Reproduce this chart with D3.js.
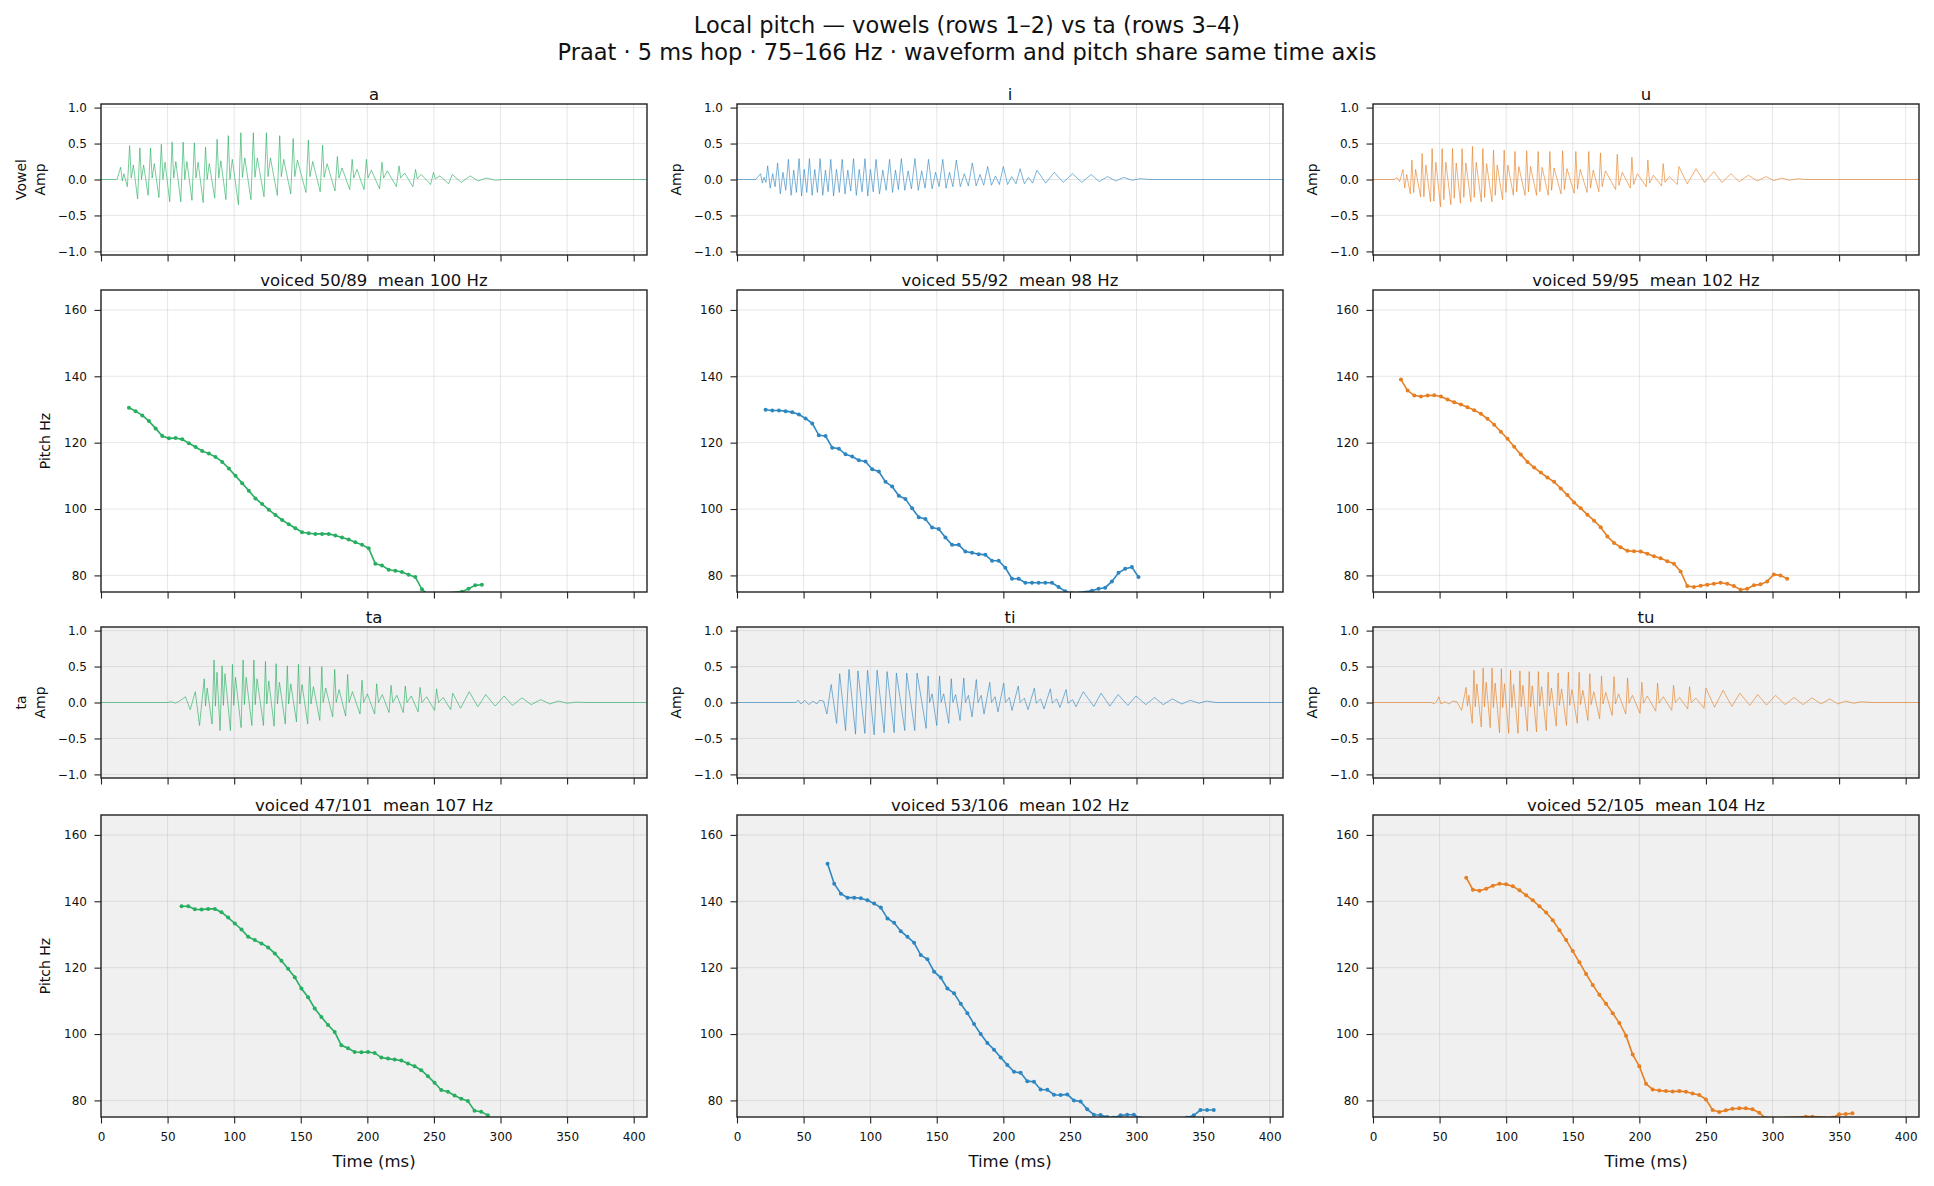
<!DOCTYPE html>
<html>
<head>
<meta charset="utf-8">
<script src="https://cdn.jsdelivr.net/npm/d3@7"></script>
<style>
  body { margin: 0; background: #fff; }
  text { font-family: 'DejaVu Sans', sans-serif; fill: #111; }
</style>
</head>
<body>
<div id="chart"></div>
<script>
/* global d3 */

// ---- data ----
const sounds = ['a', 'i', 'u', 'ta', 'ti', 'tu']
const colors = ['#27ae60', '#2e86c1', '#e67e22']
const voicedCounts = [50, 55, 59, 47, 53, 52]
const frameCounts = [89, 92, 95, 101, 106, 105]
const meanHz = [100, 98, 102, 107, 102, 104]
const rowLabels = ['Vowel', 'ta']

const timeTicks = [0, 50, 100, 150, 200, 250, 300, 350, 400]
const ampTicks = [-1, -0.5, 0, 0.5, 1]
const hzTicks = [80, 100, 120, 140, 160]

// pitch tracks, 5 ms hop, first frame time (ms); null = unvoiced
const hop = 5
const pitchStart = [21, 21.5, 21, 60.5, 68, 70]
const pitchA = [130.5,129.5,128.2,126.5,124.3,122,121.3,121.4,121,119.8,118.7,117.5,116.7,115.7,114.2,112.2,110,107.8,105.5,103.2,101.5,99.8,98.2,96.7,95.4,94.2,93,92.7,92.5,92.5,92.5,92,91.4,90.8,90,89.2,88.2,83.5,83,81.7,81.4,81,80.2,79.5,75.8,74.2,null,null,null,null,75.1,76,77,77.2]
const pitchI = [129.9,129.7,129.7,129.5,129.2,128.5,127.3,125.8,122.2,122,118.5,118.2,116.5,115.8,114.7,114.3,112,111.3,108.2,106.8,104,103,100.2,97.5,97,94.4,94,91.4,89.2,89.2,87.2,86.8,86.4,86.2,84.4,84.4,82.3,79,79,77.8,77.8,77.8,77.8,77.8,76.5,75.2,74.6,null,null,75.4,76,76.3,78.2,80.8,82,82.5,79.5]
const pitchU = [139,135.7,134.2,133.9,134.2,134.3,133.9,133,132.2,131.5,130.7,129.8,128.7,127.2,125.4,123.3,121.2,118.8,116.4,114.2,112.5,111,109.5,108.2,106.2,104.2,102,100.2,98.3,96.5,94.5,91.7,89.8,88.5,87.4,87.3,87.2,86.5,85.8,85.2,84.3,83.5,81.2,76.8,76.5,76.9,77.2,77.5,77.8,77.5,76.8,75.7,76,77,77.3,78.2,80.3,80,79]
const pitchTa = [138.5,138.5,137.6,137.5,137.7,137.7,136.7,135.1,133.3,131.5,129.3,128.3,127.3,126.1,124.3,122.1,119.7,117.1,113.7,111.1,107.7,105.1,102.7,100.6,96.6,95.7,94.6,94.5,94.6,94.3,92.9,92.6,92.3,92,91.1,90.3,89.1,87.3,85.3,83.1,82.6,81.5,80.5,79.8,76.9,76.6,75.5]
const pitchTi = [151.3,145.3,142.3,141.1,141.1,140.9,140.3,139.3,138.1,134.8,133.5,131,129.3,127.5,123.8,122.5,118.8,117,113.7,112.3,109.1,106.3,103,100,97.3,95.3,92.9,90.7,88.6,88.3,85.8,85.6,83.3,83.2,81.7,81.6,81.8,80,79.7,77.3,75.7,75.6,75,74.8,75.5,75.7,75.7,74.6,null,null,null,null,null,null,74.8,75.5,77.1,77.1,77.1]
const pitchTu = [147.1,143.5,143.2,143.8,144.7,145.3,145.1,144.5,143.3,141.8,140.3,138.5,136.6,134.3,131.3,128.3,125,121.6,118.1,114.8,111.8,109.1,106.3,103.3,99.5,93.8,90.3,85,83.3,83,82.8,82.7,82.8,82.6,82.1,81.6,80.3,77.1,76.5,77,77.5,77.6,77.6,77.3,76.3,74.6,null,null,null,null,null,75.1,75.1,null,null,74.8,75.8,75.9,76.1]

// waveforms as [time ms, amplitude] turning points
const waveA = [[0,0],[12,0],[14.8,0.17],[16,-0.02],[17.2,0.08],[19.8,-0.10],[21.5,0.47],[22.7,0.02],[24.3,0.2],[27.5,-0.27],[29.2,0.44],[30.4,0],[32,0.2],[35.4,-0.22],[37.2,0.44],[38.4,0.02],[40,0.22],[43.5,-0.25],[45.3,0.49],[46.5,0],[48.1,0.24],[51.6,-0.31],[53.4,0.52],[54.6,0.02],[56.2,0.25],[59.9,-0.31],[61.7,0.52],[62.9,0],[64.5,0.25],[68.3,-0.29],[70.1,0.51],[71.3,0.02],[72.9,0.24],[76.7,-0.32],[78.5,0.45],[79.7,0],[81.3,0.22],[85.4,-0.26],[87.2,0.56],[88.4,0.02],[90,0.26],[93.8,-0.28],[95.6,0.61],[96.8,0],[98.6,0.28],[103.2,-0.35],[105,0.65],[106.2,0.03],[108,0.3],[112.6,-0.28],[114.4,0.65],[115.6,0.03],[117.4,0.3],[122.4,-0.24],[124.2,0.65],[125.4,0.04],[127.2,0.3],[132.4,-0.22],[134.2,0.61],[135.4,0.04],[137.2,0.28],[142.5,-0.2],[144.3,0.57],[145.5,0.04],[147.5,0.27],[153.9,-0.18],[155.7,0.55],[156.9,0.04],[159,0.25],[164.6,-0.17],[166.4,0.48],[167.6,0.03],[169.8,0.22],[175.7,-0.16],[177.5,0.32],[178.7,0.02],[181,0.16],[186.8,-0.14],[188.6,0.28],[189.8,0.02],[192.2,0.14],[197.5,-0.14],[199.3,0.28],[200.5,0.02],[203,0.13],[209.2,-0.13],[211,0.24],[212.2,0.02],[215,0.12],[221.8,-0.1],[223.8,0.19],[225,0.02],[228,0.09],[234.2,-0.1],[236.2,0.14],[237.5,0.01],[240.5,0.07],[247.5,-0.07],[249.7,0.1],[251,0.01],[254.5,0.05],[261,-0.06],[263.8,0.07],[270.5,-0.04],[277.2,0.05],[283.3,-0.02],[289.3,0.02],[296,-0.01],[302,0],[410,0]]
const waveI = [[0,0],[14,0],[17.7,0.08],[19,-0.05],[20.3,0.03],[21.7,-0.04],[23,0.19],[24.9,-0.12],[26.8,0.08],[28.6,-0.1],[30.5,0.23],[32.5,-0.2],[34.5,0.1],[36.6,-0.15],[38.6,0.28],[40.6,-0.22],[42.6,0.13],[44.6,-0.18],[46.6,0.29],[48.5,-0.23],[50.5,0.14],[52.4,-0.18],[54.4,0.29],[56.4,-0.22],[58.4,0.14],[60.4,-0.18],[62.4,0.29],[64.4,-0.22],[66.4,0.13],[68.4,-0.17],[70.4,0.28],[72.5,-0.23],[74.7,0.14],[76.8,-0.18],[79,0.28],[81.1,-0.2],[83.2,0.13],[85.4,-0.16],[87.5,0.29],[89.6,-0.22],[91.8,0.14],[93.9,-0.17],[96.1,0.29],[98.2,-0.23],[100.2,0.14],[102.3,-0.17],[104.4,0.28],[107,-0.2],[109.5,0.13],[112,-0.15],[114.6,0.28],[116.8,-0.18],[119,0.13],[121.2,-0.14],[123.4,0.29],[126,-0.15],[128.5,0.12],[131,-0.13],[133.6,0.29],[136.1,-0.15],[138.7,0.12],[141.2,-0.12],[143.8,0.28],[146.5,-0.13],[149.1,0.1],[151.8,-0.1],[154.5,0.28],[157,-0.12],[159.6,0.1],[162.1,-0.1],[164.7,0.27],[167.7,-0.1],[170.7,0.08],[173.7,-0.09],[176.7,0.23],[179.6,-0.09],[182.5,0.07],[185.3,-0.08],[188.2,0.18],[191.1,-0.08],[194.1,0.05],[197,-0.07],[200,0.18],[203.2,-0.07],[206.3,0.04],[209.5,-0.06],[212.6,0.15],[215.8,-0.06],[218.9,0.03],[222,-0.05],[225.2,0.13],[231.8,-0.05],[238.3,0.1],[245,-0.04],[251.9,0.08],[259,-0.04],[265.9,0.07],[272,-0.03],[278.2,0.04],[284.4,-0.02],[290.5,0.03],[296.6,-0.01],[302.8,0.01],[310,0],[410,0]]
const waveU = [[0,0],[16,0],[18,0.03],[20,-0.03],[22.5,0.14],[23.8,-0.12],[25.3,0.07],[28,-0.2],[29.2,0.27],[30.5,-0.18],[32,0.14],[35.7,-0.24],[36.9,0.36],[38.2,-0.24],[39.7,0.2],[43.2,-0.31],[44.4,0.43],[45.7,-0.3],[47.2,0.24],[50.7,-0.38],[51.9,0.43],[53.2,-0.28],[54.7,0.24],[58.5,-0.35],[59.7,0.43],[61,-0.26],[62.5,0.23],[65.7,-0.33],[66.9,0.43],[68.2,-0.25],[69.7,0.23],[73.5,-0.31],[74.7,0.46],[76,-0.25],[77.5,0.24],[81.3,-0.31],[82.5,0.43],[83.8,-0.25],[85.3,0.22],[89.3,-0.31],[90.5,0.41],[91.8,-0.22],[93.3,0.2],[97.3,-0.28],[98.5,0.41],[99.8,-0.18],[101.3,0.2],[105.4,-0.22],[106.6,0.39],[107.9,-0.17],[109.5,0.18],[114.2,-0.22],[115.4,0.4],[116.7,-0.17],[118.3,0.18],[122.8,-0.22],[124,0.39],[125.3,-0.17],[127,0.17],[131.6,-0.22],[132.8,0.39],[134.1,-0.15],[136,0.16],[141.2,-0.2],[142.4,0.4],[143.7,-0.14],[145.7,0.15],[151.1,-0.19],[152.3,0.39],[153.6,-0.13],[155.6,0.14],[160.8,-0.18],[162,0.39],[163.3,-0.12],[165.4,0.13],[169.6,-0.17],[170.8,0.37],[172.1,-0.1],[174.5,0.12],[182.2,-0.14],[183.4,0.35],[184.7,-0.08],[187.2,0.1],[193.2,-0.12],[194.4,0.31],[195.7,-0.07],[198.5,0.08],[205.2,-0.1],[206.4,0.27],[207.7,-0.05],[210.5,0.06],[216.7,-0.09],[217.9,0.22],[219.3,-0.04],[222.5,0.04],[228.5,-0.07],[229.7,0.18],[236,-0.06],[242.6,0.15],[249,-0.04],[256,0.11],[262,-0.04],[268.8,0.08],[275,-0.03],[281.9,0.06],[288.5,-0.02],[295.3,0.04],[301,-0.015],[306.8,0.02],[313,-0.01],[318.9,0.01],[325,0],[410,0]]
const waveTa = [[0,0],[50,0],[53,0.01],[56,-0.01],[59,0.02],[63.4,0.08],[67,-0.1],[70.8,0.15],[74,-0.32],[77.5,0.33],[78.5,-0.05],[79.7,0.2],[83.4,-0.3],[84.9,0.59],[85.9,-0.05],[87.1,0.42],[89.4,-0.39],[90.9,0.51],[91.9,-0.04],[93.1,0.4],[97.2,-0.39],[98.7,0.53],[99.7,-0.04],[101,0.35],[105.2,-0.35],[106.7,0.59],[107.7,-0.03],[109,0.35],[113.3,-0.32],[114.8,0.59],[115.8,-0.03],[117.2,0.33],[122,-0.32],[123.5,0.57],[124.5,-0.02],[126,0.3],[130,-0.33],[131.5,0.54],[132.5,-0.02],[134,0.28],[138.4,-0.3],[139.9,0.51],[140.9,-0.02],[142.5,0.26],[146.8,-0.27],[148.3,0.53],[149.3,-0.02],[151,0.25],[155.2,-0.3],[156.7,0.5],[157.7,-0.02],[159.5,0.22],[164.3,-0.25],[165.8,0.5],[166.8,0],[168.8,0.2],[174,-0.2],[175.5,0.46],[176.6,0],[178.8,0.18],[183.7,-0.19],[185.2,0.39],[186.3,0],[188.8,0.15],[194.5,-0.16],[196,0.31],[197.2,0],[200,0.12],[205.5,-0.16],[207,0.26],[208.3,0],[211.2,0.11],[216.3,-0.14],[217.8,0.24],[219.1,0],[222.2,0.1],[227,-0.14],[228.5,0.23],[229.8,0],[233,0.09],[238.1,-0.13],[239.6,0.21],[241,0],[244.5,0.08],[250.5,-0.11],[252,0.19],[253.5,0],[257,0.07],[262.6,-0.1],[264.1,0.13],[270,-0.08],[276.5,0.15],[283,-0.06],[288.9,0.11],[296,-0.05],[302.7,0.09],[309,-0.04],[316.1,0.065],[323,-0.03],[330.2,0.04],[337,-0.02],[343.6,0.02],[350,-0.01],[357,0.005],[365,0],[410,0]]
const waveTi = [[0,0],[44,0],[46,0.03],[48,-0.02],[51,0.03],[54,-0.03],[57,0.02],[60,-0.02],[62,0.03],[65,0.02],[67.5,-0.16],[70.7,0.25],[74.8,-0.29],[77.1,0.4],[81.5,-0.39],[84.1,0.46],[89,-0.44],[90.8,0.44],[96,-0.43],[98,0.45],[103,-0.45],[105.2,0.45],[110.5,-0.42],[112.7,0.43],[118,-0.42],[119.7,0.41],[126,-0.39],[127.4,0.41],[133.5,-0.39],[135.2,0.41],[142,-0.36],[143.5,0.37],[144.7,0],[146.5,0.12],[150,-0.32],[152.1,0.37],[153.3,0],[155.2,0.12],[159,-0.29],[160.9,0.33],[162.1,0],[164.2,0.11],[167.5,-0.25],[170.3,0.34],[171.5,0],[173.8,0.1],[176.5,-0.2],[179.7,0.32],[181,0],[183.4,0.1],[185.5,-0.16],[189.8,0.28],[191.1,0],[193.8,0.08],[196,-0.13],[200.3,0.27],[201.6,0],[204.5,0.07],[206.5,-0.11],[211.2,0.23],[212.6,0],[215.8,0.06],[218.5,-0.1],[223.3,0.2],[224.7,-0.01],[228,0.05],[230.5,-0.09],[235.3,0.19],[236.8,-0.01],[240,0.05],[242.5,-0.07],[247.1,0.18],[248.6,-0.01],[252,0.04],[254.5,-0.06],[260,0.15],[268,-0.055],[273.4,0.13],[280,-0.05],[286.2,0.11],[293.5,-0.04],[299.6,0.09],[307,-0.03],[313.5,0.07],[320,-0.03],[326.9,0.05],[334,-0.02],[340.3,0.03],[347,-0.01],[352.3,0.02],[360,0],[410,0]]
const waveTu = [[0,0],[44,0],[46,-0.02],[48,0.02],[49.5,0.08],[51,-0.02],[54,0.01],[57,-0.02],[60,0.02],[63,0.01],[66.5,-0.11],[69.9,0.21],[70.9,-0.05],[72,0.1],[74.5,-0.29],[75.8,0.45],[76.8,-0.06],[78,0.26],[81.3,-0.34],[82.7,0.48],[83.7,-0.06],[85,0.28],[88,-0.35],[89.4,0.48],[90.4,-0.07],[91.7,0.27],[95,-0.42],[96.4,0.47],[97.4,-0.07],[98.7,0.26],[101.9,-0.43],[103.3,0.45],[104.3,-0.07],[105.6,0.25],[108.9,-0.43],[110.3,0.44],[111.3,-0.06],[112.6,0.24],[115.9,-0.4],[117.3,0.43],[118.3,-0.06],[119.6,0.23],[122.8,-0.41],[124.2,0.43],[125.2,-0.05],[126.6,0.22],[130.1,-0.39],[131.5,0.42],[132.5,-0.05],[134,0.2],[137.6,-0.33],[139,0.41],[140,-0.04],[141.6,0.19],[145.3,-0.32],[146.7,0.42],[147.7,-0.04],[149.4,0.18],[153.4,-0.29],[154.8,0.42],[155.8,-0.03],[157.6,0.17],[161.4,-0.25],[162.8,0.4],[163.8,-0.03],[165.8,0.15],[170.2,-0.23],[171.6,0.37],[172.7,-0.02],[174.8,0.14],[179.6,-0.18],[181,0.36],[182.1,-0.02],[184.4,0.12],[189.8,-0.16],[191.2,0.34],[192.3,-0.01],[194.8,0.1],[200.5,-0.15],[201.9,0.28],[203.1,-0.01],[206,0.09],[212.3,-0.12],[213.7,0.27],[214.9,-0.01],[218,0.08],[224.3,-0.11],[225.7,0.24],[227,0],[230.2,0.07],[236.3,-0.09],[237.7,0.22],[239,0],[242.5,0.06],[248.6,-0.08],[250,0.2],[256.5,-0.065],[262.9,0.17],[269.5,-0.055],[275.5,0.13],[283,-0.04],[288.9,0.11],[295.5,-0.035],[302.3,0.1],[309.5,-0.03],[316.2,0.07],[323,-0.03],[329.6,0.065],[336.5,-0.02],[343,0.05],[349,-0.02],[355,0.02],[361,-0.01],[367,0.01],[375,0],[410,0]]

const pitches = [pitchA, pitchI, pitchU, pitchTa, pitchTi, pitchTu]
const waves = [waveA, waveI, waveU, waveTa, waveTi, waveTu]

// ---- layout ----
const width = 1934, height = 1186
const colLeft = [101, 737, 1373], colW = 546
const rowTop = [104, 290, 627, 815]
const waveH = 151, pitchH = 302

const svg = d3.select('#chart').append('svg')
  .attr('width', width)
  .attr('height', height)

const x = d3.scaleLinear().domain([0, 410]).range([0, colW])
const yAmp = d3.scaleLinear().domain([-1.05, 1.05]).range([waveH, 0])
const yHz = d3.scaleLinear().domain([75, 166]).range([pitchH, 0])

// suptitle
svg.append('text').attr('x', width / 2).attr('y', 33)
  .attr('text-anchor', 'middle').style('font-size', '22.5px')
  .text('Local pitch — vowels (rows 1–2) vs ta (rows 3–4)')
svg.append('text').attr('x', width / 2).attr('y', 60)
  .attr('text-anchor', 'middle').style('font-size', '22.5px')
  .text('Praat · 5 ms hop · 75–166 Hz · waveform and pitch share same time axis')

let clipId = 0

let panel = (left, top, h, y, yTicks, yFmt, bg, xLabels) => {
  let g = svg.append('g').attr('transform', `translate(${left},${top})`)
  g.append('rect').attr('width', colW).attr('height', h).attr('fill', bg)

  g.selectAll('.gx').data(timeTicks).enter().append('line')
    .attr('x1', d => x(d)).attr('x2', d => x(d))
    .attr('y1', 0).attr('y2', h)
    .attr('stroke', '#b0b0b0').attr('stroke-opacity', 0.3).attr('stroke-width', 1)
  g.selectAll('.gy').data(yTicks).enter().append('line')
    .attr('x1', 0).attr('x2', colW)
    .attr('y1', d => y(d)).attr('y2', d => y(d))
    .attr('stroke', '#b0b0b0').attr('stroke-opacity', 0.3).attr('stroke-width', 1)

  let id = 'clip' + (clipId++)
  g.append('clipPath').attr('id', id)
    .append('rect').attr('width', colW).attr('height', h)
  let plot = g.append('g').attr('clip-path', `url(#${id})`)

  let ax = g.append('g').attr('transform', `translate(0,${h})`)
    .call(d3.axisBottom(x).tickValues(timeTicks).tickSize(6.5).tickPadding(9)
      .tickFormat(xLabels ? d3.format('d') : ''))
  let ay = g.append('g')
    .call(d3.axisLeft(y).tickValues(yTicks).tickSize(6.5).tickPadding(7.5).tickFormat(yFmt))
  ;[ax, ay].forEach(a => {
    a.select('.domain').remove()
    a.selectAll('line').attr('stroke', '#222').attr('stroke-width', 1.1)
    a.selectAll('text').style('font-size', '12px').attr('fill', '#111')
      .style('font-family', "'DejaVu Sans', sans-serif")
  })

  g.append('rect').attr('width', colW).attr('height', h)
    .attr('fill', 'none').attr('stroke', '#222').attr('stroke-width', 1.4)
  return { g, plot }
}

let yLabel = (g, h, dx, txt) => {
  g.append('text')
    .attr('transform', `translate(${dx},${h / 2}) rotate(-90)`)
    .attr('text-anchor', 'middle').attr('dominant-baseline', 'central')
    .style('font-size', '14px').text(txt)
}

for (let r = 0; r < 2; r++) {
  let bg = r === 0 ? '#ffffff' : '#f0f0f0'
  for (let c = 0; c < 3; c++) {
    let k = r * 3 + c
    let col = colors[c]

    // waveform
    let w = panel(colLeft[c], rowTop[r * 2], waveH, yAmp, ampTicks, d3.format('.1f'), bg, false)
    w.plot.append('path').datum(waves[k])
      .attr('d', d3.line().x(d => x(d[0])).y(d => yAmp(d[1])))
      .attr('fill', 'none').attr('stroke', col)
      .attr('stroke-width', 0.9).attr('stroke-opacity', 0.7)
    w.g.append('text').attr('x', colW / 2).attr('y', -4)
      .attr('text-anchor', 'middle').style('font-size', '16.5px').text(sounds[k])
    if (c === 0) {
      yLabel(w.g, waveH, -80, rowLabels[r])
      yLabel(w.g, waveH, -61, 'Amp')
    } else {
      yLabel(w.g, waveH, -61, 'Amp')
    }

    // pitch
    let pts = pitches[k]
      .map((v, i) => ({ t: pitchStart[k] + i * hop, hz: v }))
      .filter(d => d.hz !== null)
    let p = panel(colLeft[c], rowTop[r * 2 + 1], pitchH, yHz, hzTicks, d3.format('d'), bg, r === 1)
    p.plot.append('path').datum(pts)
      .attr('d', d3.line().x(d => x(d.t)).y(d => yHz(d.hz)))
      .attr('fill', 'none').attr('stroke', col).attr('stroke-width', 1.6)
    p.plot.selectAll('circle').data(pts).enter().append('circle')
      .attr('cx', d => x(d.t)).attr('cy', d => yHz(d.hz)).attr('r', 2)
      .attr('fill', col)
    p.g.append('text').attr('x', colW / 2).attr('y', -4)
      .attr('text-anchor', 'middle').style('font-size', '16.5px')
      .style('white-space', 'pre').attr('xml:space', 'preserve')
      .text(`voiced ${voicedCounts[k]}/${frameCounts[k]}  mean ${meanHz[k]} Hz`)
    if (c === 0) yLabel(p.g, pitchH, -56, 'Pitch Hz')
    if (r === 1) {
      p.g.append('text').attr('x', colW / 2).attr('y', pitchH + 50)
        .attr('text-anchor', 'middle').style('font-size', '16.5px').text('Time (ms)')
    }
  }
}
</script>
</body>
</html>
